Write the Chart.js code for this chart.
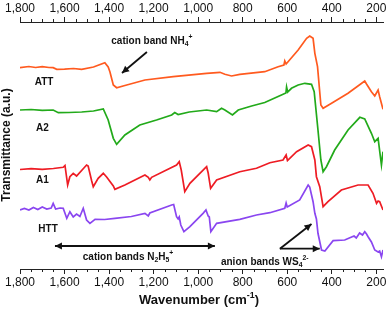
<!DOCTYPE html>
<html>
<head>
<meta charset="utf-8">
<script src="https://cdn.jsdelivr.net/npm/chart.js@4.4.1/dist/chart.umd.min.js"></script>
<style>
  html, body { margin: 0; padding: 0; background: #fff; }
</style>
</head>
<body>
<canvas id="chart" width="392" height="310"></canvas>
<script>
// Wavenumber tick labels (cm-1)
const majorTicks = [200, 400, 600, 800, 1000, 1200, 1400, 1600, 1800];

// Spectra: wavenumber (cm-1) and transmittance (a.u., offset traces)
const attWave = [1800, 1760, 1730, 1700, 1670, 1651, 1635, 1600, 1560, 1523, 1470, 1419, 1404, 1396, 1381, 1366, 1329, 1239, 1112, 962, 902, 880, 850, 813, 701, 641, 615, 611, 605, 551, 513, 499, 484, 476, 464, 449, 439, 401, 327, 252, 244, 222, 207, 192, 185, 170];
const attT = [201.3, 202.5, 201.5, 202.3, 201.5, 201.3, 199.7, 199.9, 200.5, 199.7, 202, 206.3, 202, 197, 184, 181.3, 183.5, 189, 192.3, 195.7, 196.7, 194.7, 193, 194.7, 197.3, 202.3, 204, 208, 205, 219, 230.7, 233, 230.7, 215.7, 202.3, 164, 160.7, 165.7, 175.7, 188, 185, 177.3, 173, 179, 172.3, 159.7];

const a2Wave = [1800, 1750, 1700, 1651, 1628, 1580, 1523, 1470, 1426, 1404, 1381, 1366, 1329, 1262, 1187, 1119, 1105, 1090, 1040, 962, 917, 895, 880, 846, 820, 760, 701, 626, 606, 603, 598, 581, 551, 521, 491, 479, 462, 449, 439, 424, 387, 327, 274, 252, 222, 207, 192, 177, 170];
const a2T = [159, 159.5, 158.7, 159, 156.3, 156.5, 157, 158, 160, 149, 130.7, 124.7, 134, 144, 149, 154, 156.5, 154.5, 157, 159, 157.3, 160.7, 159, 154, 159, 163, 166.5, 174, 176, 182, 177, 180.7, 184, 185.7, 184.7, 177.3, 139, 109, 97.3, 102.3, 119, 139, 151.7, 150, 135.7, 127.3, 130.7, 104, 117.3];

const a1Wave = [1800, 1750, 1700, 1650, 1606, 1598, 1586, 1576, 1561, 1546, 1501, 1494, 1478, 1471, 1449, 1426, 1411, 1381, 1374, 1329, 1239, 1224, 1217, 1209, 1097, 1085, 1076, 1060, 1037, 970, 962, 955, 944, 917, 813, 738, 678, 619, 605, 599, 558, 506, 491, 476, 469, 454, 439, 417, 357, 282, 237, 215, 199, 192, 185, 170];
const a1T = [99.5, 100.3, 99.7, 100.5, 101.7, 103.5, 84, 92.3, 95.7, 93, 104, 103, 88, 82.3, 90.7, 95.7, 92, 83, 79.7, 84, 94, 91.7, 89, 91.7, 104, 107.3, 99, 77.3, 85.7, 100.7, 102.3, 96, 80.7, 89, 97.3, 100.7, 106.3, 109, 114, 108.5, 117.3, 124, 122.3, 109, 92.3, 82.3, 62.3, 67.3, 79, 84, 84, 75.7, 65.7, 68, 67.3, 59];

const httWave = [1800, 1780, 1760, 1740, 1720, 1700, 1680, 1660, 1651, 1640, 1620, 1606, 1590, 1576, 1561, 1546, 1531, 1516, 1501, 1486, 1463, 1420, 1374, 1300, 1239, 1224, 1217, 1119, 1110, 1097, 1090, 1085, 1078, 1064, 1037, 978, 965, 955, 950, 943, 917, 813, 738, 678, 611, 605, 600, 544, 506, 499, 484, 476, 469, 462, 446, 431, 394, 342, 300, 290, 275, 262, 252, 244, 237, 222, 207, 192, 185, 177, 170];
const httT = [59, 60.5, 59, 61.5, 59.5, 62, 60, 61, 65.7, 60, 61, 60.7, 50.7, 57.3, 52, 55, 52.5, 60.7, 49, 45.7, 49.7, 49.5, 50.7, 52.5, 55.7, 53, 56, 64, 64.5, 52.3, 50, 52, 44, 37.3, 42.3, 55.7, 59, 53, 52, 37.3, 45.7, 49.7, 54, 56.3, 60.7, 66, 62, 69, 84, 82, 67.3, 55.7, 50, 35.7, 19, 18, 28.3, 29, 33, 31, 36, 34, 37.3, 35, 32.3, 27, 19, 17, 18, 12.3, 19];

const FONT = '"Liberation Sans", Arial, sans-serif';

function toPoints(xs, ys) {
    return xs.map((x, i) => ({ x: x, y: ys[i] }));
}

function formatWave(v) {
    return String(v).replace(/\B(?=(\d{3})+(?!\d))/g, ',');
}

function series(label, xs, ys, color) {
    return {
        label: label,
        data: toPoints(xs, ys),
        borderColor: color,
        borderWidth: 1.7,
        pointRadius: 0,
        fill: false,
        tension: 0
    };
}

// Text with sub/superscripts: parts = [[text, 'n'|'sub'|'sup'], ...]
function drawRich(ctx, parts, x, y, size) {
    const sizeOf = m => (m === 'n' ? size : size * 0.68);
    const widths = parts.map(([t, m]) => {
        ctx.font = 'bold ' + sizeOf(m) + 'px ' + FONT;
        return ctx.measureText(t).width;
    });
    let cx = x - widths.reduce((a, b) => a + b, 0) / 2;
    ctx.textAlign = 'left';
    ctx.textBaseline = 'middle';
    parts.forEach(([t, m], i) => {
        ctx.font = 'bold ' + sizeOf(m) + 'px ' + FONT;
        const dy = m === 'sub' ? size * 0.3 : (m === 'sup' ? -size * 0.35 : 0);
        ctx.fillText(t, cx, y + dy);
        cx += widths[i];
    });
}

function arrowHead(ctx, x1, y1, x2, y2) {
    const a = Math.atan2(y2 - y1, x2 - x1), L = 7, W = 3.5;
    ctx.beginPath();
    ctx.moveTo(x2, y2);
    ctx.lineTo(x2 - L * Math.cos(a) + W * Math.sin(a), y2 - L * Math.sin(a) - W * Math.cos(a));
    ctx.lineTo(x2 - L * Math.cos(a) - W * Math.sin(a), y2 - L * Math.sin(a) + W * Math.cos(a));
    ctx.closePath();
    ctx.fill();
}

function arrow(ctx, x1, y1, x2, y2, both) {
    ctx.beginPath();
    ctx.moveTo(x1, y1);
    ctx.lineTo(x2, y2);
    ctx.stroke();
    arrowHead(ctx, x1, y1, x2, y2);
    if (both) arrowHead(ctx, x2, y2, x1, y1);
}

// Minor ticks, titles, trace labels and band annotations
const decorPlugin = {
    id: 'decor',
    afterDraw(chart) {
        const ctx = chart.ctx;
        const xs = chart.scales.x, xt = chart.scales.x2, ys = chart.scales.y;
        const X = v => xs.getPixelForValue(v);
        const Y = v => ys.getPixelForValue(v);
        ctx.save();

        // minor ticks every 50 cm-1
        ctx.strokeStyle = '#222';
        ctx.lineWidth = 1;
        ctx.beginPath();
        for (let v = 250; v < 1800; v += 50) {
            if (v % 200 === 0) continue;
            const px = Math.round(X(v)) + 0.5;
            ctx.moveTo(px, xs.top);
            ctx.lineTo(px, xs.top + 3);
            ctx.moveTo(px, xt.bottom);
            ctx.lineTo(px, xt.bottom - 3);
        }
        ctx.stroke();

        ctx.fillStyle = '#111';
        ctx.strokeStyle = '#111';

        // axis titles
        drawRich(ctx, [['Wavenumber (cm', 'n'], ['-1', 'sup'], [')', 'n']], 199, 300, 13);
        ctx.save();
        ctx.translate(7, 145);
        ctx.rotate(-Math.PI / 2);
        ctx.font = 'bold 12px ' + FONT;
        ctx.textAlign = 'center';
        ctx.textBaseline = 'middle';
        ctx.fillText('Transmittance (a.u.)', 0, 0);
        ctx.restore();

        // trace labels
        ctx.font = 'bold 10px ' + FONT;
        ctx.textAlign = 'center';
        ctx.textBaseline = 'middle';
        ctx.fillText('ATT', X(1692), Y(187));
        ctx.fillText('A2', X(1699), Y(141));
        ctx.fillText('A1', X(1699), Y(89));
        ctx.fillText('HTT', X(1674), Y(40));

        // band annotations
        ctx.lineWidth = 1.8;
        drawRich(ctx, [['cation band NH', 'n'], ['4', 'sub'], ['+', 'sup']], X(1208), Y(228), 10);
        arrow(ctx, X(1230), Y(217), X(1342), Y(196), false);

        arrow(ctx, X(1643), Y(23), X(925), Y(23), true);
        drawRich(ctx, [['cation bands N', 'n'], ['2', 'sub'], ['H', 'n'], ['5', 'sub'], ['+', 'sup']], X(1315), Y(12), 10);

        arrow(ctx, X(633), Y(20.3), X(491), Y(45), false);
        arrow(ctx, X(633), Y(20.3), X(454), Y(20.3), false);
        drawRich(ctx, [['anion bands WS', 'n'], ['4', 'sub'], ['2-', 'sup']], X(701), Y(7), 10);

        ctx.restore();
    }
};

function waveAxis(position, height) {
    return {
        type: 'linear',
        position: position,
        min: 170,
        max: 1800,
        reverse: true,
        afterBuildTicks: s => { s.ticks = majorTicks.map(v => ({ value: v })); },
        afterFit: s => { s.height = height; },
        ticks: {
            autoSkip: false,
            maxRotation: 0,
            padding: 1,
            color: '#111',
            font: { family: FONT, size: 12 },
            callback: v => formatWave(v)
        },
        grid: { drawOnChartArea: false, tickLength: 5, color: '#222' },
        border: { display: true, color: '#222', width: 1 }
    };
}

const ctx = document.getElementById('chart').getContext('2d');
new Chart(ctx, {
    type: 'line',
    data: {
        datasets: [
            series('ATT', attWave, attT, '#ff5a1f'),
            series('A2', a2Wave, a2T, '#22aa1a'),
            series('A1', a1Wave, a1T, '#ee1c24'),
            series('HTT', httWave, httT, '#8a46f0')
        ]
    },
    options: {
        responsive: false,
        animation: false,
        devicePixelRatio: 1,
        layout: { padding: { left: 0, right: 9, top: 0, bottom: 0 } },
        plugins: { legend: { display: false }, tooltip: { enabled: false } },
        scales: {
            x: waveAxis('bottom', 41),
            x2: waveAxis('top', 22),
            y: {
                min: 0,
                max: 247,
                ticks: { display: false },
                grid: { display: false },
                border: { display: false },
                afterFit: s => { s.width = 20; }
            }
        }
    },
    plugins: [decorPlugin]
});
</script>
</body>
</html>
